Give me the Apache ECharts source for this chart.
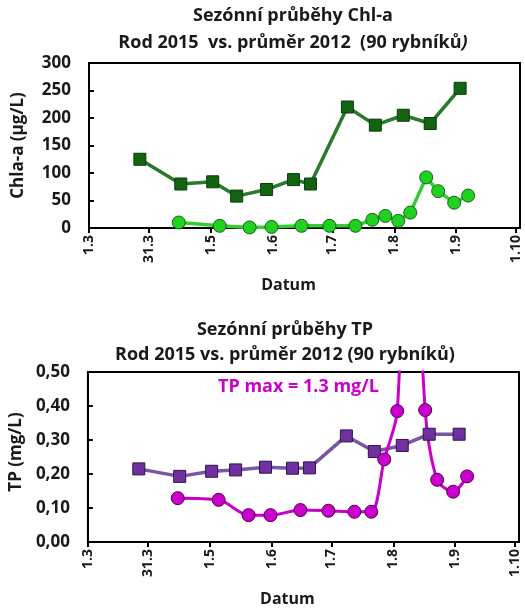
<!DOCTYPE html>
<html>
<head>
<meta charset="utf-8">
<script src="https://cdn.jsdelivr.net/npm/echarts@6/dist/echarts.min.js"></script>
<style>
html,body{margin:0;padding:0;background:#fff;}
#chart{width:525px;height:608px;}
</style>
</head>
<body>
<div id="chart"></div>
<script>
// x values: days after 1 March (1.3 = day 0)
const tickDays   = [0, 30, 61, 92, 122, 153, 184, 214];
const tickLabels = ['1.3', '31.3', '1.5', '1.6', '1.7', '1.8', '1.9', '1.10'];

// průměr 2012 (squares) sampling days
const avgDays = [25.5, 46, 62, 74, 89, 102.5, 111, 129.5, 143.5, 157.5, 171, 186];
// Rod 2015 (circles) sampling days
const rodDays = [45, 65.5, 80.5, 91.5, 106.5, 120.5, 133.5, 142, 148.5, 155, 161, 169, 175, 183, 190];

// Chl-a (µg/L)
const chlAvg = [125, 80, 84, 58, 70, 88, 80, 220, 187, 205, 190, 254];
const chlRod = [10, 4, 1, 2, 4, 4, 4, 15, 22, 13, 28, 92, 67, 46, 59];

// TP (mg/L)
const tpAvg = [0.215, 0.193, 0.208, 0.212, 0.220, 0.217, 0.218, 0.312, 0.266, 0.284, 0.317, 0.317];
const tpRod = [0.129, 0.124, 0.079, 0.079, 0.094, 0.092, 0.089, 0.089, 0.243, 0.385, 1.3, 0.388, 0.183, 0.148, 0.193];

const FONT = 'Open Sans';
const TXT = '#1a1a1a';

function pairs(xs, ys) { return xs.map((x, i) => [x, ys[i]]); }

function xAxisCfg(gridIndex) {
  return {
    type: 'value', gridIndex: gridIndex, min: 0, max: 216,
    name: 'Datum', nameLocation: 'middle', nameGap: 49,
    nameTextStyle: { fontFamily: FONT, fontWeight: 'bold', fontSize: 16, color: TXT, padding: [0, 32, 0, 0] },
    axisLine: { show: true, onZero: false, lineStyle: { color: '#000', width: 2 } },
    axisTick: { show: true, inside: false, length: 5, customValues: tickDays, lineStyle: { color: '#000', width: 2 } },
    axisLabel: {
      customValues: tickDays, rotate: 90, margin: 7,
      fontFamily: FONT, fontWeight: 'bold', fontSize: 14, color: TXT,
      formatter: function (v) { const i = tickDays.indexOf(v); return i >= 0 ? tickLabels[i] : ''; }
    },
    splitLine: { show: false }
  };
}

const option = {
  backgroundColor: '#fff',
  animation: false,
  title: [
    {
      text: 'Sezónní průběhy Chl-a\nRod 2015  vs. průměr 2012  (90 rybníků{i|)}',
      left: 293, top: 2, padding: 0, textAlign: 'center',
      textStyle: { fontFamily: FONT, fontWeight: 'bold', fontSize: 18, color: TXT, lineHeight: 27,
        rich: { i: { fontFamily: FONT, fontWeight: 'bold', fontStyle: 'italic', fontSize: 18, color: TXT, lineHeight: 27 } } }
    },
    {
      text: 'Sezónní průběhy TP\nRod 2015 vs. průměr 2012 (90 rybníků)',
      left: 285, top: 317, padding: 0, textAlign: 'center',
      textStyle: { fontFamily: FONT, fontWeight: 'bold', fontSize: 18, color: TXT, lineHeight: 25 }
    }
  ],
  grid: [
    { left: 89, top: 63, width: 431, height: 165, show: true, borderColor: '#000', borderWidth: 2, backgroundColor: 'transparent' },
    { left: 87, top: 372, width: 432, height: 170, show: true, borderColor: '#000', borderWidth: 2, backgroundColor: 'transparent' }
  ],
  xAxis: [xAxisCfg(0), xAxisCfg(1)],
  yAxis: [
    {
      type: 'value', gridIndex: 0, min: 0, max: 300, interval: 50,
      name: 'Chla-a (µg/L)', nameLocation: 'middle', nameRotate: 90, nameGap: 62,
      nameTextStyle: { fontFamily: FONT, fontWeight: 'bold', fontSize: 17, color: TXT },
      axisLine: { show: true, lineStyle: { color: '#000', width: 2 } },
      axisTick: { show: true, inside: true, length: 5, lineStyle: { color: '#000', width: 2 } },
      axisLabel: { fontFamily: FONT, fontWeight: 'bold', fontSize: 17, color: TXT, margin: 18 },
      splitLine: { show: false }
    },
    {
      type: 'value', gridIndex: 1, min: 0, max: 0.5, interval: 0.1,
      name: 'TP (mg/L)', nameLocation: 'middle', nameRotate: 90, nameGap: 60,
      nameTextStyle: { fontFamily: FONT, fontWeight: 'bold', fontSize: 17, color: TXT, padding: [0, 0, 0, 10] },
      axisLine: { show: true, lineStyle: { color: '#000', width: 2 } },
      axisTick: { show: true, inside: true, length: 5, lineStyle: { color: '#000', width: 2 } },
      axisLabel: { fontFamily: FONT, fontWeight: 'bold', fontSize: 17, color: TXT, margin: 18,
        formatter: function (v) { return v.toFixed(2).replace('.', ','); } },
      splitLine: { show: false }
    }
  ],
  graphic: [
    { type: 'text', left: 218, top: 378, style: { text: 'TP max = 1.3 mg/L', fill: '#cc00cc', font: 'bold 18px "Open Sans"' }, z: 100 }
  ],
  series: [
    {
      name: 'průměr 2012 Chl-a', type: 'line', xAxisIndex: 0, yAxisIndex: 0,
      data: pairs(avgDays, chlAvg),
      symbol: 'rect', symbolSize: 12,
      lineStyle: { color: '#2b7a2b', width: 3.5 },
      itemStyle: { color: '#126312', borderColor: '#0a3d0a', borderWidth: 1 }
    },
    {
      name: 'Rod 2015 Chl-a', type: 'line', xAxisIndex: 0, yAxisIndex: 0,
      data: pairs(rodDays, chlRod),
      symbol: 'circle', symbolSize: 13,
      lineStyle: { color: '#33cc33', width: 3.5 },
      itemStyle: { color: '#1fd21f', borderColor: '#1d5e1d', borderWidth: 1 }
    },
    {
      name: 'průměr 2012 TP', type: 'line', xAxisIndex: 1, yAxisIndex: 1,
      data: pairs(avgDays, tpAvg),
      symbol: 'rect', symbolSize: 12,
      lineStyle: { color: '#7a55a8', width: 3.5 },
      itemStyle: { color: '#7030a0', borderColor: '#2e1448', borderWidth: 1 }
    },
    {
      name: 'Rod 2015 TP', type: 'line', xAxisIndex: 1, yAxisIndex: 1,
      data: pairs(rodDays, tpRod),
      symbol: 'circle', symbolSize: 13, smooth: 0.3,
      clip: true,
      lineStyle: { color: '#cc00cc', width: 3 },
      itemStyle: { color: '#cc00cc', borderColor: '#4a004a', borderWidth: 1 }
    }
  ]
};

const chart = echarts.init(document.getElementById('chart'), null, { renderer: 'canvas' });
chart.setOption(option);
</script>
</body>
</html>
